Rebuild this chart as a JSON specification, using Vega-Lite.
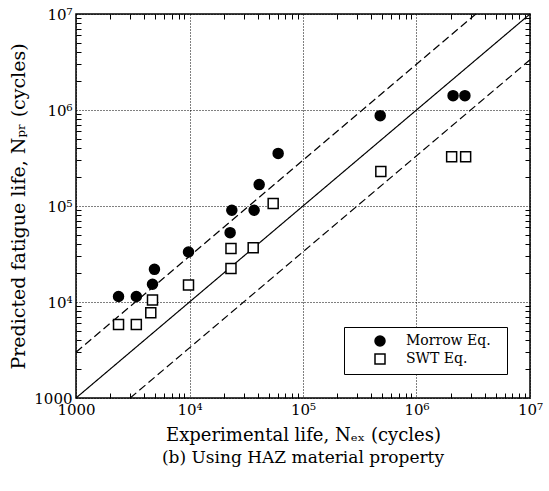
{
  "$schema": "https://vega.github.io/schema/vega-lite/v6.json",
  "width": 454,
  "height": 384,
  "autosize": {"type": "none"},
  "padding": {"left": 76, "top": 14, "right": 19, "bottom": 93},
  "background": "white",
  "config": {
    "view": {"stroke": "black", "strokeWidth": 1.5},
    "font": "DejaVu Serif",
    "axis": {
      "labelFont": "DejaVu Serif",
      "titleFont": "DejaVu Serif",
      "labelColor": "black",
      "titleColor": "black",
      "titleFontWeight": "normal",
      "domain": false,
      "ticks": false
    },
    "legend": {
      "labelFont": "DejaVu Serif",
      "labelFontSize": 14,
      "labelColor": "black"
    }
  },
  "title": {
    "text": "(b) Using HAZ material property",
    "orient": "bottom",
    "anchor": "middle",
    "font": "DejaVu Serif",
    "fontSize": 17,
    "fontWeight": "normal",
    "color": "black",
    "offset": 6
  },
  "datasets": {
    "pts": [
      {"eq": "Morrow Eq.", "nex": 2370, "npr": 11400},
      {"eq": "Morrow Eq.", "nex": 3400, "npr": 11400},
      {"eq": "Morrow Eq.", "nex": 4720, "npr": 15300},
      {"eq": "Morrow Eq.", "nex": 4910, "npr": 21900},
      {"eq": "Morrow Eq.", "nex": 9800, "npr": 33200},
      {"eq": "Morrow Eq.", "nex": 22800, "npr": 52800},
      {"eq": "Morrow Eq.", "nex": 23600, "npr": 90200},
      {"eq": "Morrow Eq.", "nex": 37100, "npr": 90200},
      {"eq": "Morrow Eq.", "nex": 41100, "npr": 167000},
      {"eq": "Morrow Eq.", "nex": 60400, "npr": 353000},
      {"eq": "Morrow Eq.", "nex": 479000, "npr": 873000},
      {"eq": "Morrow Eq.", "nex": 2100000, "npr": 1410000},
      {"eq": "Morrow Eq.", "nex": 2670000, "npr": 1410000},
      {"eq": "SWT Eq.", "nex": 2370, "npr": 5830},
      {"eq": "SWT Eq.", "nex": 3400, "npr": 5830},
      {"eq": "SWT Eq.", "nex": 4560, "npr": 7750},
      {"eq": "SWT Eq.", "nex": 4720, "npr": 10500},
      {"eq": "SWT Eq.", "nex": 9800, "npr": 15000},
      {"eq": "SWT Eq.", "nex": 23200, "npr": 22300},
      {"eq": "SWT Eq.", "nex": 23200, "npr": 36000},
      {"eq": "SWT Eq.", "nex": 36400, "npr": 36800},
      {"eq": "SWT Eq.", "nex": 54600, "npr": 106000},
      {"eq": "SWT Eq.", "nex": 485000, "npr": 229000},
      {"eq": "SWT Eq.", "nex": 2040000, "npr": 326000},
      {"eq": "SWT Eq.", "nex": 2710000, "npr": 326000}
    ],
    "lines": [
      {"line": "equal", "dash": "solid", "x": 1000, "y": 1000},
      {"line": "equal", "dash": "solid", "x": 10000000, "y": 10000000},
      {"line": "upper", "dash": "dashed", "x": 1000, "y": 3000},
      {"line": "upper", "dash": "dashed", "x": 3333333, "y": 10000000},
      {"line": "lower", "dash": "dashed", "x": 3000, "y": 1000},
      {"line": "lower", "dash": "dashed", "x": 10000000, "y": 3333333}
    ]
  },
  "layer": [
    {
      "data": {"name": "lines"},
      "mark": {"type": "line", "color": "black", "strokeWidth": 1.2},
      "encoding": {
        "x": {
          "field": "x", "type": "quantitative",
          "scale": {"type": "log", "domain": [1000, 10000000], "nice": false},
          "axis": {
            "orient": "bottom",
            "title": "Experimental life, Nₑₓ  (cycles)",
            "titleFontSize": 18,
            "titlePadding": 9,
            "values": [1000, 10000, 100000, 1000000, 10000000],
            "labelExpr": "datum.value == 1000 ? '1000' : datum.value == 10000 ? '10⁴' : datum.value == 100000 ? '10⁵' : datum.value == 1000000 ? '10⁶' : '10⁷'",
            "labelFontSize": 15,
            "labelPadding": 4,
            "labelFlush": false,
            "labelOverlap": false,
            "grid": true,
            "gridColor": "black",
            "gridWidth": 1,
            "gridDash": [1, 2]
          }
        },
        "y": {
          "field": "y", "type": "quantitative",
          "scale": {"type": "log", "domain": [1000, 10000000], "nice": false},
          "axis": {
            "orient": "left",
            "title": "Predicted fatigue life, Nₚᵣ (cycles)",
            "titleFontSize": 19,
            "titlePadding": 5,
            "values": [1000, 10000, 100000, 1000000, 10000000],
            "labelExpr": "datum.value == 1000 ? '1000' : datum.value == 10000 ? '10⁴' : datum.value == 100000 ? '10⁵' : datum.value == 1000000 ? '10⁶' : '10⁷'",
            "labelFontSize": 15,
            "labelPadding": 4,
            "labelFlush": false,
            "labelOverlap": false,
            "grid": true,
            "gridColor": "black",
            "gridWidth": 1,
            "gridDash": [1, 2]
          }
        },
        "detail": {"field": "line"},
        "strokeDash": {
          "field": "dash", "type": "nominal",
          "scale": {"domain": ["solid", "dashed"], "range": [[1, 0], [8, 4]]},
          "legend": null
        }
      }
    },
    {
      "data": {"name": "pts"},
      "mark": {"type": "point", "filled": true, "stroke": "black", "strokeWidth": 1.5, "opacity": 1, "size": 100},
      "encoding": {
        "x": {
          "field": "nex", "type": "quantitative",
          "scale": {"type": "log", "domain": [1000, 10000000], "nice": false},
          "axis": {
            "orient": "top",
            "title": null,
            "labels": false,
            "values": [2000,3000,4000,5000,6000,7000,8000,9000,20000,30000,40000,50000,60000,70000,80000,90000,200000,300000,400000,500000,600000,700000,800000,900000,2000000,3000000,4000000,5000000,6000000,7000000,8000000,9000000],
            "grid": true,
            "gridColor": "black",
            "gridWidth": 1,
            "gridDash": [5, 374]
          }
        },
        "y": {
          "field": "npr", "type": "quantitative",
          "scale": {"type": "log", "domain": [1000, 10000000], "nice": false},
          "axis": {
            "orient": "right",
            "title": null,
            "labels": false,
            "values": [2000,3000,4000,5000,6000,7000,8000,9000,20000,30000,40000,50000,60000,70000,80000,90000,200000,300000,400000,500000,600000,700000,800000,900000,2000000,3000000,4000000,5000000,6000000,7000000,8000000,9000000],
            "grid": true,
            "gridColor": "black",
            "gridWidth": 1,
            "gridDash": [5, 444]
          }
        },
        "shape": {
          "field": "eq", "type": "nominal",
          "scale": {"domain": ["Morrow Eq.", "SWT Eq."], "range": ["circle", "square"]},
          "legend": {
            "title": ".",
            "titleColor": "white",
            "titleOrient": "right",
            "titlePadding": 4,
            "titleFontSize": 14,
            "orient": "none",
            "legendX": 268,
            "legendY": 313,
            "padding": 7,
            "fillColor": "white",
            "strokeColor": "black",
            "symbolOffset": 22,
            "labelOffset": 19,
            "rowPadding": 2,
            "symbolSize": 100,
            "encode": {"symbols": {"update": {"stroke": {"value": "black"}, "strokeWidth": {"value": 1.5}}}}
          }
        },
        "fill": {
          "field": "eq", "type": "nominal",
          "scale": {"domain": ["Morrow Eq.", "SWT Eq."], "range": ["black", "white"]},
          "legend": {
            "title": ".",
            "titleColor": "white",
            "titleOrient": "right",
            "titlePadding": 4,
            "titleFontSize": 14,
            "orient": "none",
            "legendX": 268,
            "legendY": 313,
            "padding": 7,
            "fillColor": "white",
            "strokeColor": "black",
            "symbolOffset": 22,
            "labelOffset": 19,
            "rowPadding": 2,
            "symbolSize": 100,
            "encode": {"symbols": {"update": {"stroke": {"value": "black"}, "strokeWidth": {"value": 1.5}}}}
          }
        }
      }
    }
  ]
}
